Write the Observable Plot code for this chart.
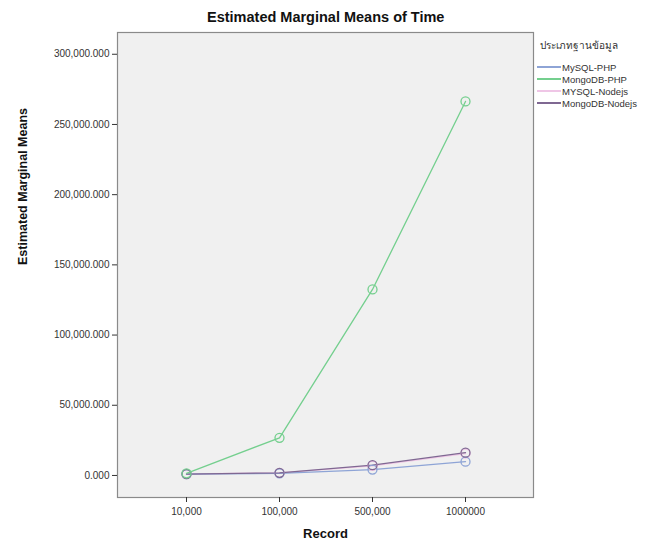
<!DOCTYPE html>
<html>
<head>
<meta charset="utf-8">
<script src="https://cdn.jsdelivr.net/npm/d3@7"></script>
<script src="https://cdn.jsdelivr.net/npm/@observablehq/plot@0.6"></script>
<style>
  body { margin: 0; background: #fff; font-family: "Liberation Sans", Arial, sans-serif; }
  #wrap { position: relative; width: 656px; height: 550px; }
  #title { height: 28px; line-height: 34px; font-weight: bold; font-size: 14.5px; color: #111; text-align: left; padding-left: 207px; box-sizing: border-box; }
  #legend { position: absolute; left: 537px; top: 38px; font-size: 9.5px; color: #333; }
  #legend .ttl { margin-left: 3px; margin-bottom: 8px; font-size: 10px; }
  #legend .row { display: flex; align-items: center; height: 12px; }
  #legend .sw { display: inline-block; width: 24px; height: 1.6px; margin-right: 1px; }
</style>
</head>
<body>
<div id="wrap">
  <div id="title">Estimated Marginal Means of Time</div>
  <div id="chart"></div>
  <div id="legend"></div>
</div>
<script>
const records = ["10,000", "100,000", "500,000", "1000000"];
const seriesNames = ["MySQL-PHP", "MongoDB-PHP", "MYSQL-Nodejs", "MongoDB-Nodejs"];
const seriesColors = ["#8ea4d6", "#74cf8e", "#efc6e6", "#7f6892"];
const mysqlPhp = [1000, 1500, 4200, 9800];
const mongoPhp = [1500, 26800, 132500, 266400];
const mysqlNodejs = [1100, 1800, 6800, 15500];
const mongoNodejs = [1000, 1900, 7300, 16200];
const yTicks = [0, 50000, 100000, 150000, 200000, 250000, 300000];

const seriesValues = [mysqlPhp, mongoPhp, mysqlNodejs, mongoNodejs];
const drawOrder = [2, 0, 3, 1];
const data = [];
for (const s of drawOrder) {
  records.forEach((r, i) => data.push({record: r, value: seriesValues[s][i], series: seriesNames[s]}));
}

const chart = Plot.plot({
  width: 656,
  height: 522,
  marginLeft: 117,
  marginRight: 123,
  marginTop: 4,
  marginBottom: 53,
  style: {fontFamily: "'Liberation Sans', Arial, sans-serif", fontSize: "10px", color: "#333", background: "transparent"},
  x: {type: "point", domain: records, padding: 0.736, label: null},
  y: {domain: [-15700, 315500], label: null},
  color: {domain: seriesNames, range: seriesColors},
  marks: [
    Plot.frame({fill: "#f0f0f0", stroke: "#8a8a8a", strokeWidth: 1.2}),
    Plot.axisY({ticks: yTicks, tickFormat: d3.format(",.3f"), tickSize: 5, tickPadding: 3, stroke: "#333", fill: "#333", fontSize: 10}),
    Plot.axisX({tickSize: 5, tickPadding: 5, stroke: "#333", fill: "#333", fontSize: 10}),
    Plot.line(data, {x: "record", y: "value", z: "series", stroke: "series", strokeWidth: 1.3}),
    Plot.dot(data, {x: "record", y: "value", stroke: "series", r: 4.5, strokeWidth: 1.3, fill: "none"}),
    Plot.text(["Estimated Marginal Means"], {frameAnchor: "left", dx: -95, rotate: -90, fontWeight: "bold", fontSize: 12.5, fill: "#111"}),
    Plot.text(["Record"], {frameAnchor: "bottom", dy: 40, fontWeight: "bold", fontSize: 13, fill: "#111"})
  ]
});
document.getElementById("chart").appendChild(chart);

const legend = document.getElementById("legend");
const t = document.createElement("div");
t.className = "ttl";
t.textContent = "ประเภทฐานข้อมูล";
legend.appendChild(t);
seriesNames.forEach((n, i) => {
  const row = document.createElement("div");
  row.className = "row";
  const sw = document.createElement("span");
  sw.className = "sw";
  sw.style.background = seriesColors[i];
  const lab = document.createElement("span");
  lab.textContent = n;
  row.appendChild(sw);
  row.appendChild(lab);
  legend.appendChild(row);
});
</script>
</body>
</html>
